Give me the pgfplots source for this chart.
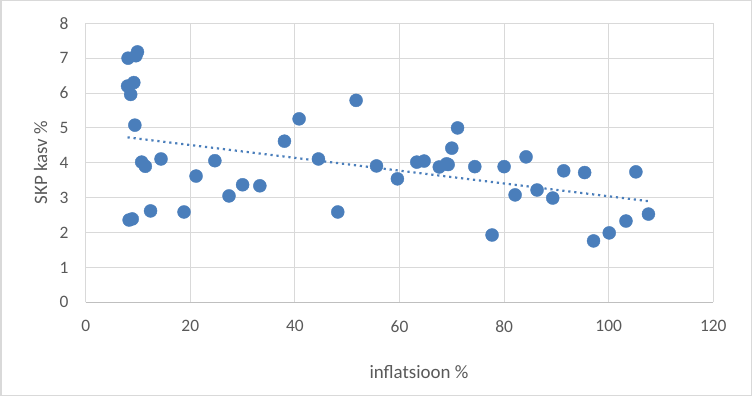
\documentclass[border=0pt]{standalone}
\usepackage{pgfplots}
\pgfplotsset{compat=1.18}
\usepackage{pgfplotstable}
\usepackage{fontspec}
\setmainfont{Carlito}
\definecolor{ptblue}{HTML}{4A7EBB}
\definecolor{gridgray}{HTML}{D9D9D9}
\definecolor{txtgray}{HTML}{595959}
\pgfplotstableread{
x y
8.1 7.00
9.6 7.07
9.9 7.18
8.0 6.20
9.2 6.30
8.6 5.96
9.4 5.08
10.7 4.02
11.4 3.90
14.4 4.11
8.3 2.36
8.9 2.39
12.4 2.62
18.8 2.59
21.1 3.62
24.7 4.06
27.4 3.05
30.0 3.37
33.3 3.34
38.0 4.62
40.8 5.26
44.5 4.11
48.2 2.59
51.7 5.79
55.6 3.91
59.6 3.54
63.3 4.02
64.7 4.05
67.6 3.88
69.0 3.97
69.3 3.95
70.0 4.42
71.1 5.00
74.4 3.89
77.7 1.93
80.0 3.89
82.1 3.08
84.2 4.17
86.3 3.22
89.3 2.99
91.4 3.77
95.4 3.72
97.1 1.76
100.1 1.99
103.3 2.33
105.2 3.74
107.6 2.53
}\datatable
\begin{document}
\begin{tikzpicture}
\path[use as bounding box] (0,0) rectangle (752bp,396bp);
\draw[gridgray, line width=1.5bp] (0.75bp,0.75bp) rectangle (751.25bp,395.25bp);
\begin{axis}[
  at={(85.7bp,93.7bp)}, anchor=south west,
  scale only axis, width=627.6bp, height=279bp,
  xmin=0, xmax=120, ymin=0, ymax=8,
  xtick={0,20,...,120}, ytick={0,1,...,8},
  /pgf/number format/assume math mode=true,
  major tick length=0pt,
  grid=major,
  major grid style={gridgray, line width=1bp},
  axis line style={gridgray, line width=1bp},
  axis x line*=bottom, axis y line*=left,
  x axis line style={draw=black!25, line width=1bp},
  tick label style={font=\fontsize{17.5}{17.5}\selectfont, text=txtgray},
  x tick label style={anchor=center, yshift=-24bp},
  y tick label style={anchor=east, inner sep=0pt, xshift=-17bp},
  xlabel={inflatsioon \%},
  ylabel={SKP kasv \%},
  label style={font=\fontsize{19}{19}\selectfont, text=txtgray},
  xlabel style={at={(axis description cs:0.531,0)}, anchor=base, yshift=-76bp},
  ylabel style={at={(axis description cs:0,0.5)}, anchor=south, yshift=35bp},
  clip=false,
]
\addplot[only marks, mark=*, mark size=6.5bp, mark options={fill=ptblue, draw=ptblue}] table[x=x, y=y] {\datatable};
\addplot[ptblue, line width=2.2bp, dash pattern=on 2.2bp off 3.8bp] coordinates {(8,4.73) (107.6,2.90)};
\end{axis}
\end{tikzpicture}
\end{document}
